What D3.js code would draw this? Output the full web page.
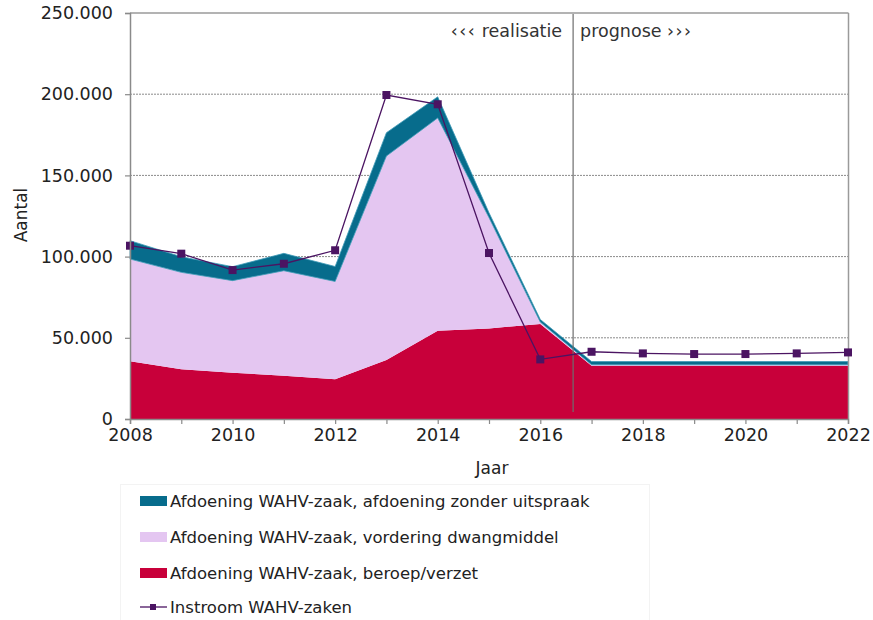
<!DOCTYPE html>
<html>
<head>
<meta charset="utf-8">
<script src="https://cdn.jsdelivr.net/npm/d3@7"></script>
<style>
  html, body { margin: 0; padding: 0; background: #fff; }
  svg { display: block; font-family: "DejaVu Sans", Verdana, sans-serif; }
</style>
</head>
<body>
<svg id="chart" width="873" height="620"></svg>
<script>
// Afdoeningen en instroom WAHV-zaken, 2008-2022 (realisatie t/m 2016, daarna prognose)
const years = [2008, 2009, 2010, 2011, 2012, 2013, 2014, 2015, 2016, 2017, 2018, 2019, 2020, 2021, 2022];
const beroepVerzet    = [35500, 30600, 28500, 26700, 24500, 36300, 54400, 55800, 58500, 32800, 32800, 32800, 32800, 32800, 32800];
const dwangmiddel     = [63000, 59700, 56700, 64600, 60200, 125600, 131000, 68200, 1200, 600, 600, 600, 600, 600, 600];
const zonderUitspraak = [11300, 9600, 8600, 10700, 9200, 14400, 13000, 3000, 1600, 2000, 2000, 2000, 2000, 2000, 2000];
const instroom        = [106700, 101800, 91700, 95600, 103900, 199500, 193800, 102200, 36700, 41400, 40400, 40000, 40000, 40400, 41000];

const yTicks = [0, 50000, 100000, 150000, 200000, 250000];
const xTicks = [2008, 2010, 2012, 2014, 2016, 2018, 2020, 2022];
const splitYear = 2016.64;

const seriesNames = {
  zonder: "Afdoening WAHV-zaak, afdoening zonder uitspraak",
  dwang: "Afdoening WAHV-zaak, vordering dwangmiddel",
  beroep: "Afdoening WAHV-zaak, beroep/verzet",
  instroom: "Instroom WAHV-zaken"
};
const colors = { zonder: "#076c8c", dwang: "#e4c6f1", beroep: "#c8003a", instroom: "#4b1462" };

const svg = d3.select("#chart");
const plot = { left: 130, right: 848, top: 13, bottom: 419 };

const x = d3.scaleLinear().domain([2008, 2022]).range([plot.left, plot.right]);
const y = d3.scaleLinear().domain([0, 250000]).range([plot.bottom, plot.top]);

const fmt = v => d3.format(",")(v).replace(/,/g, ".");

// stacked rows
const rows = years.map((yr, i) => ({ year: yr, beroep: beroepVerzet[i], dwang: dwangmiddel[i], zonder: zonderUitspraak[i] }));
const layers = d3.stack().keys(["beroep", "dwang", "zonder"])(rows);

// gridlines
svg.append("g").selectAll("line").data(yTicks.filter(t => t > 0 && t < 250000)).join("line")
  .attr("x1", plot.left).attr("x2", plot.right)
  .attr("y1", d => y(d)).attr("y2", d => y(d))
  .attr("stroke", "#8a8a8a").attr("stroke-width", 1).attr("stroke-dasharray", "2,1");

// stacked areas
const area = d3.area()
  .x(d => x(d.data.year))
  .y0(d => y(d[0]))
  .y1(d => y(d[1]));

svg.append("g").selectAll("path").data(layers).join("path")
  .attr("d", area)
  .attr("fill", d => colors[d.key])
  .attr("stroke", d => d.key === "zonder" ? "#3f9ab8" : "none")
  .attr("stroke-width", 0.8);

// plot frame: top and right edge
svg.append("line").attr("x1", plot.left).attr("x2", plot.right + 0.5).attr("y1", plot.top).attr("y2", plot.top)
  .attr("stroke", "#9a9a9a").attr("stroke-width", 1.5);
svg.append("line").attr("x1", plot.right + 0.5).attr("x2", plot.right + 0.5).attr("y1", plot.top).attr("y2", plot.bottom)
  .attr("stroke", "#9a9a9a").attr("stroke-width", 1.5);

// divider realisatie / prognose
svg.append("line")
  .attr("x1", x(splitYear)).attr("x2", x(splitYear))
  .attr("y1", plot.top + 1).attr("y2", 412)
  .attr("stroke", "#6e6e6e").attr("stroke-width", 1.2);
const realText = svg.append("text").attr("x", x(splitYear) - 11).attr("y", 37)
  .attr("text-anchor", "end").attr("font-size", 17.5).attr("fill", "#333");
realText.append("tspan").attr("letter-spacing", 1.5).text("‹‹‹");
realText.append("tspan").text(" realisatie");
const progText = svg.append("text").attr("x", x(splitYear) + 7).attr("y", 37)
  .attr("text-anchor", "start").attr("font-size", 17.5).attr("fill", "#333");
progText.append("tspan").text("prognose ");
progText.append("tspan").attr("letter-spacing", 1.5).text("›››");

// instroom line with square markers
const line = d3.line().x((d, i) => x(years[i])).y(d => y(d));
svg.append("path").datum(instroom)
  .attr("d", line).attr("fill", "none")
  .attr("stroke", colors.instroom).attr("stroke-width", 1.3);
svg.append("g").selectAll("rect").data(instroom).join("rect")
  .attr("x", (d, i) => x(years[i]) - 4).attr("y", d => y(d) - 4)
  .attr("width", 8).attr("height", 8)
  .attr("fill", colors.instroom);

// axes
const yAxis = d3.axisLeft(y).tickValues(yTicks).tickFormat(fmt).tickSize(5).tickPadding(12);
const gy = svg.append("g").attr("transform", `translate(${plot.left},0)`).call(yAxis);
gy.select(".domain").attr("stroke", "#8a8a8a").attr("stroke-width", 1.5);
gy.selectAll(".tick line").attr("stroke", "#8a8a8a").attr("stroke-width", 1.2);
gy.selectAll(".tick text").attr("font-size", 17.5).attr("fill", "#222")
  .attr("font-family", "DejaVu Sans, Verdana, sans-serif");

const xAxis = d3.axisBottom(x).tickValues(years).tickFormat(d => xTicks.includes(d) ? d : "").tickSize(5).tickPadding(5);
const gx = svg.append("g").attr("transform", `translate(0,${plot.bottom})`).call(xAxis);
gx.select(".domain").attr("stroke", "#8a8a8a").attr("stroke-width", 1.5);
gx.selectAll(".tick line").attr("stroke", "#8a8a8a").attr("stroke-width", 1.2);
gx.selectAll(".tick text").attr("font-size", 17.5).attr("fill", "#222")
  .attr("font-family", "DejaVu Sans, Verdana, sans-serif");

// axis titles
svg.append("text").attr("x", (plot.left + plot.right) / 2 + 3).attr("y", 474)
  .attr("text-anchor", "middle").attr("font-size", 17).attr("fill", "#222").text("Jaar");
svg.append("text").attr("transform", "translate(27,215) rotate(-90)")
  .attr("text-anchor", "middle").attr("font-size", 17).attr("fill", "#222").text("Aantal");

// legend
const legend = svg.append("g");
legend.append("rect").attr("x", 120.5).attr("y", 484.5).attr("width", 529).attr("height", 140)
  .attr("fill", "none").attr("stroke", "#f3f3f3");
const legendItems = ["zonder", "dwang", "beroep", "instroom"];
const legendY = [501, 537, 573, 607];
legendItems.forEach((k, i) => {
  const g = legend.append("g").attr("transform", `translate(0,${legendY[i]})`);
  if (k === "instroom") {
    g.append("line").attr("x1", 140).attr("x2", 167).attr("y1", 0).attr("y2", 0)
      .attr("stroke", colors.instroom).attr("stroke-width", 1.3);
    g.append("rect").attr("x", 150).attr("y", -3).attr("width", 6).attr("height", 6).attr("fill", colors.instroom);
  } else {
    g.append("rect").attr("x", 140).attr("y", -5).attr("width", 27).attr("height", 10).attr("fill", colors[k]);
  }
  g.append("text").attr("x", 170).attr("y", 0).attr("dy", "0.36em")
    .attr("font-size", 16.5).attr("fill", "#222").text(seriesNames[k]);
});
</script>
</body>
</html>
